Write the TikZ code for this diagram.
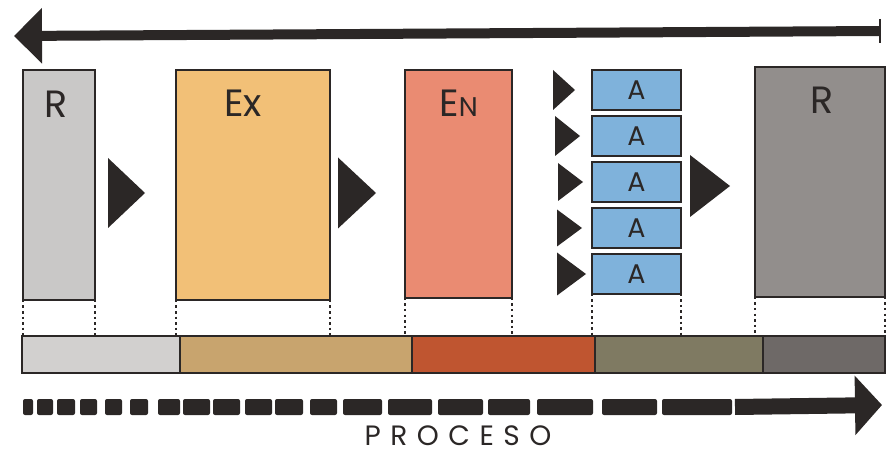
\documentclass[tikz,border=0pt]{standalone}
\usepackage{fontspec}
\setmainfont{Poppins}
\usetikzlibrary{arrows.meta,positioning,shapes.geometric}
\definecolor{ink}{HTML}{2B2726}
\definecolor{rgray}{HTML}{C9C8C7}
\definecolor{exgold}{HTML}{F2C077}
\definecolor{ensalmon}{HTML}{EA8B72}
\definecolor{ablue}{HTML}{7FB2DB}
\definecolor{rdark}{HTML}{928E8C}
\definecolor{bgray}{HTML}{D2D0CF}
\definecolor{btan}{HTML}{C8A46E}
\definecolor{brust}{HTML}{BF5530}
\definecolor{bolive}{HTML}{7F7A62}
\definecolor{bdark}{HTML}{6E6967}

\begin{document}
\begin{tikzpicture}[
  x=1pt, y=-1pt,
  box/.style={draw=ink, line width=1.6pt, inner sep=0pt, outer sep=0pt, anchor=north west},
  abox/.style={box, fill=ablue, minimum width=89pt, minimum height=40pt, font=\fontsize{27}{27}\selectfont, text=ink},
  seg/.style={draw=ink, line width=1.6pt, inner sep=0pt, outer sep=0pt, minimum height=37pt},
  tri/.style={isosceles triangle, isosceles triangle stretches, fill=ink, inner sep=0pt, outer sep=0pt, anchor=apex},
  lbl/.style={font=\fontsize{38}{38}\selectfont, text=ink},
  dots/.style={ink, line width=2pt, dash pattern=on 2.5pt off 3pt},
  bigarr/.style={ink, line width=10pt, -{Triangle[length=28pt,width=54pt]}}
]
\useasboundingbox (0,0) rectangle (894,454);

% top arrow
\coordinate (tstart) at (880,31);
\coordinate (tend) at (14,36);
\draw[bigarr] (tstart) -- (tend);
\draw[ink, line width=1.5pt] ([yshift=12pt]tstart) -- ([yshift=-12pt]tstart);

% stage boxes
\node[box, fill=rgray, minimum width=72pt, minimum height=230pt] (r1) at (23,70) {};
\node[box, fill=exgold, minimum width=154pt, minimum height=230pt] (ex) at (176,70) {};
\node[box, fill=ensalmon, minimum width=107pt, minimum height=228pt] (en) at (405,70) {};
\node[box, fill=rdark, minimum width=130pt, minimum height=230pt] (r2) at (755,67) {};
\node[lbl] at ([xshift=-3pt, yshift=-34pt]r1.north) {R};
\node[lbl] at ([xshift=-10pt, yshift=-33pt]ex.north) {Ex};
\node[lbl] at ([yshift=-33pt]en.north) {E{\fontsize{27}{27}\selectfont N}};
\node[lbl] at ([xshift=2pt, yshift=-33pt]r2.north) {R};

% A column
\node[abox] (a1) at (592,70) {A};
\node[abox, below=6pt of a1] (a2) {A};
\node[abox, below=6pt of a2] (a3) {A};
\node[abox, below=6pt of a3] (a4) {A};
\node[abox, below=6pt of a4] (a5) {A};

% pointers
\node[tri, minimum height=37pt, minimum width=70pt] (t1) at (145,193) {};
\node[tri, minimum height=38pt, minimum width=71pt] (t2) at (376,193) {};
\node[tri, minimum height=40pt, minimum width=62pt] (t3) at (730,186) {};
\node[tri, minimum height=22pt, minimum width=40pt, left=17pt of a1] (p1) {};
\node[tri, minimum height=25pt, minimum width=40pt, left=12pt of a2] (p2) {};
\node[tri, minimum height=25pt, minimum width=38pt, left=9pt of a3] (p3) {};
\node[tri, minimum height=25pt, minimum width=37pt, left=10pt of a4] (p4) {};
\node[tri, minimum height=29pt, minimum width=43pt, left=6pt of a5] (p5) {};

% time band
\node[seg, fill=bgray, minimum width=158pt, anchor=north west] (s1) at (22,336) {};
\node[seg, fill=btan, minimum width=232pt, right=0pt of s1] (s2) {};
\node[seg, fill=brust, minimum width=183pt, right=0pt of s2] (s3) {};
\node[seg, fill=bolive, minimum width=168pt, right=0pt of s3] (s4) {};
\node[seg, fill=bdark, minimum width=122pt, right=0pt of s4] (s5) {};

% projections
\draw[dots] (r1.south west) -- (r1.south west |- s1.north);
\draw[dots] (r1.south east) -- (r1.south east |- s1.north);
\draw[dots] (ex.south west) -- (ex.south west |- s1.north);
\draw[dots] (ex.south east) -- (ex.south east |- s1.north);
\draw[dots] (en.south west) -- (en.south west |- s1.north);
\draw[dots] (en.south east) -- (en.south east |- s1.north);
\draw[dots] (a5.south west) -- (a5.south west |- s1.north);
\draw[dots] (a5.south east) -- (a5.south east |- s1.north);
\draw[dots] (r2.south west) -- (r2.south west |- s1.north);
\draw[dots] (r2.south east) -- (r2.south east |- s1.north);

% process arrow
\foreach \a/\b in {23/33, 37/53, 57/75, 80/97, 105/122, 130/148, 158/180, 183/210, 213/240,
  245/272, 275/303, 310/337, 343/382, 388/432, 438/483, 488/530, 537/593, 602/657, 662/732}
  \fill[ink, rounded corners=2pt] (\a,399) rectangle (\b,415);
\coordinate (ptail) at (735,407);
\coordinate (phead) at (882,405);
\draw[ink, line width=16pt, -{Triangle[length=27pt,width=58pt]}] (ptail) -- (phead);
\node[inner sep=1pt, font=\fontsize{28}{28}\selectfont\addfontfeature{LetterSpace=34}, text=ink] (proc) at (458,436) {PROCESO};
\end{tikzpicture}
\end{document}
